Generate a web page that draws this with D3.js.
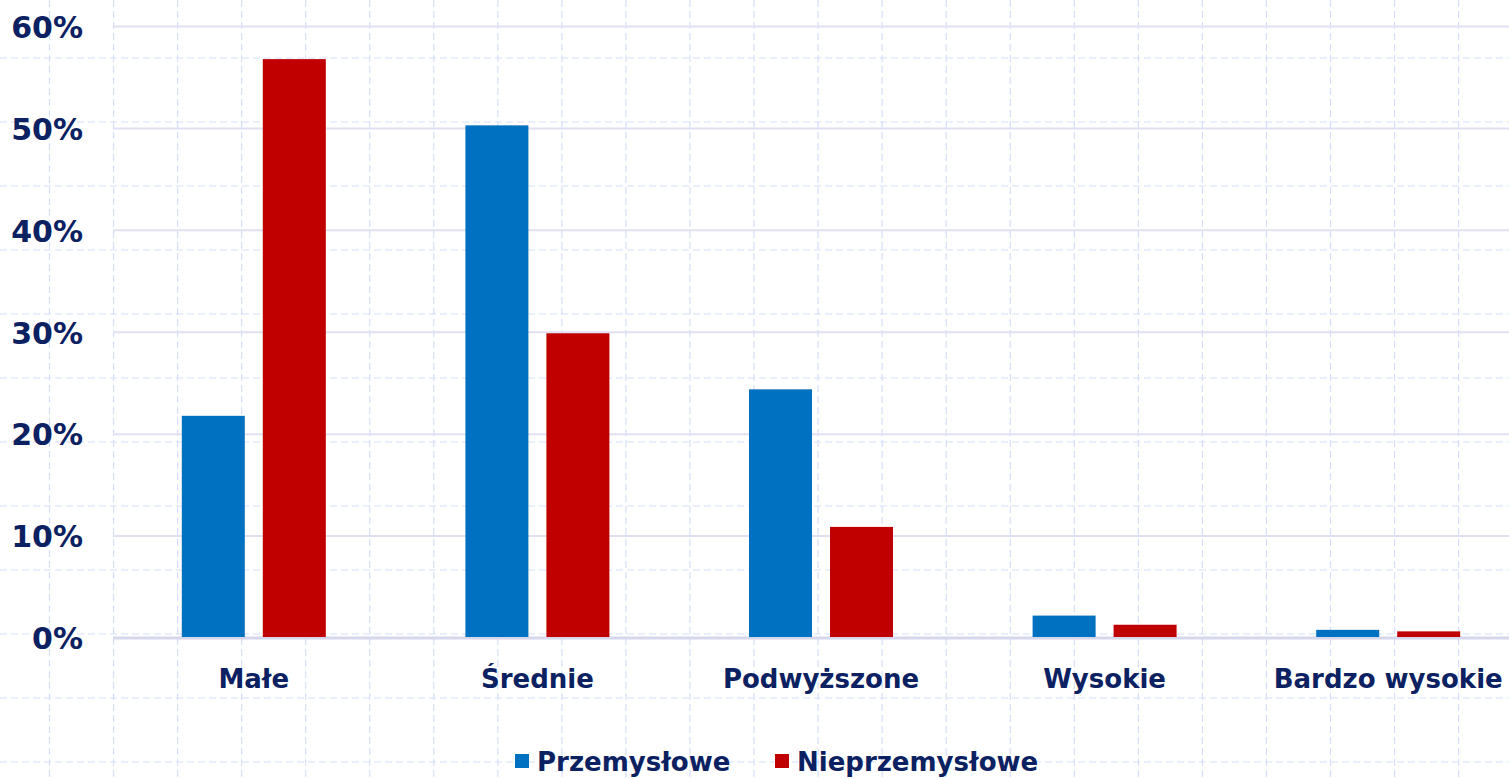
<!DOCTYPE html>
<html>
<head>
<meta charset="utf-8">
<script src="https://cdn.jsdelivr.net/npm/d3@7"></script>
<style>
html,body{margin:0;padding:0;background:#fff;overflow:hidden;}
svg{display:block;}
</style>
</head>
<body>
<svg id="chart" width="1509" height="779"></svg>
<script>
const categories = ["Małe", "Średnie", "Podwyższone", "Wysokie", "Bardzo wysokie"];
const seriesNames = ["Przemysłowe", "Nieprzemysłowe"];
const przemyslowe = [21.8, 50.3, 24.4, 2.2, 0.8];
const nieprzemyslowe = [56.8, 29.9, 10.9, 1.3, 0.65];
const yTicks = [0, 10, 20, 30, 40, 50, 60];
const colors = ["#0070c0", "#c00000"];

const W = 1509, H = 779;
const svg = d3.select("#chart");
const navy = "#0b2161";
const font = "'DejaVu Sans', Verdana, sans-serif";

// background dashed grid (decorative)
const bg = svg.append("g");
bg.selectAll("line.v").data(d3.range(0, 24)).join("line")
  .attr("x1", k => 49.5 + 64.05 * k).attr("x2", k => 49.5 + 64.05 * k)
  .attr("y1", 0).attr("y2", H)
  .attr("stroke", "#d5dffb").attr("stroke-width", 1.2).attr("stroke-dasharray", "7,4");
bg.selectAll("line.h").data(d3.range(-1, 13)).join("line")
  .attr("y1", k => 58 + 64 * k).attr("y2", k => 58 + 64 * k)
  .attr("x1", 0).attr("x2", W)
  .attr("stroke", "#d5dffb").attr("stroke-width", 1.2).attr("stroke-dasharray", "7,4");

const y = d3.scaleLinear().domain([0, 60]).range([638, 26.5]);
const x0 = d3.scaleBand().domain(categories).range([112, 1530]).paddingInner(0).paddingOuter(0);
const x1 = d3.scaleBand().domain(seriesNames).range([0, 144]).paddingInner(18 / 81).paddingOuter(0);

// gridlines
svg.append("g").selectAll("line").data(yTicks).join("line")
  .attr("x1", 113).attr("x2", W)
  .attr("y1", d => y(d)).attr("y2", d => y(d))
  .attr("stroke", d => d === 0 ? "#d6d6ec" : "#e0e0f2")
  .attr("stroke-width", d => d === 0 ? 3 : 2);

// y axis labels
const yAxis = d3.axisLeft(y).tickValues(yTicks).tickFormat(d => d + "%").tickSize(0).tickPadding(0);
const ya = svg.append("g").attr("transform", "translate(83,0)").call(yAxis);
ya.select(".domain").remove();
ya.selectAll("text").attr("fill", navy).attr("font-family", font).attr("font-weight", "bold")
  .attr("font-size", 30).attr("dy", "0.36em");

// bars
const data = categories.map((c, i) => ({ cat: c, vals: [przemyslowe[i], nieprzemyslowe[i]] }));
const groups = svg.append("g").selectAll("g").data(data).join("g")
  .attr("transform", d => `translate(${x0(d.cat) + x0.bandwidth() / 2 - 72},0)`);
groups.selectAll("rect").data(d => d.vals.map((v, j) => ({ s: seriesNames[j], v, j }))).join("rect")
  .attr("x", d => x1(d.s)).attr("width", x1.bandwidth())
  .attr("y", d => y(d.v)).attr("height", d => y(0) - y(d.v) - 1)
  .attr("fill", d => colors[d.j]);

// x axis labels
const xAxis = d3.axisBottom(x0).tickSize(0).tickPadding(0);
const xa = svg.append("g").attr("transform", "translate(0,688)").call(xAxis);
xa.select(".domain").remove();
xa.selectAll("text").attr("fill", navy).attr("font-family", font).attr("font-weight", "bold")
  .attr("font-size", 26).attr("dy", 0).attr("y", 0);

// legend
const legendX = [515, 775];
const lg = svg.append("g").selectAll("g").data(seriesNames).join("g")
  .attr("transform", (d, i) => `translate(${legendX[i]},0)`);
lg.append("rect").attr("x", 0).attr("y", 754).attr("width", 14).attr("height", 14)
  .attr("fill", (d, i) => colors[i]);
lg.append("text").attr("x", 22).attr("y", 771).text(d => d)
  .attr("fill", navy).attr("font-family", font).attr("font-weight", "bold").attr("font-size", 26);
</script>
</body>
</html>
